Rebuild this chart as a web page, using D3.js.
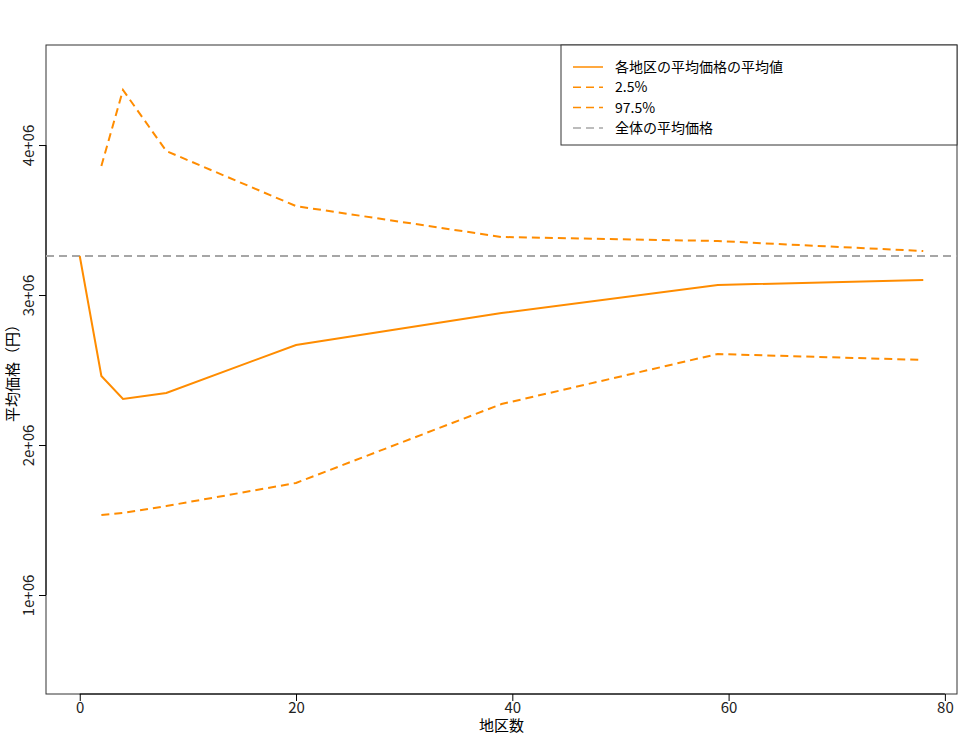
<!DOCTYPE html>
<html><head><meta charset="utf-8">
<script src="https://cdn.jsdelivr.net/npm/d3@7"></script>
<style>body{margin:0;background:#fff}text{font-family:"Noto Sans CJK JP","Noto Sans",sans-serif;}</style>
</head><body><svg id="c" width="980" height="742"></svg>
<script>
const districts = [0, 2, 4, 8, 20, 39, 59, 78];
const meanPrice = [3.26e6, 2.46e6, 2.307e6, 2.347e6, 2.667e6, 2.88e6, 3.067e6, 3.1e6];
const lowerX = [2, 4, 8, 20, 39, 59, 78];
const lower = [1.533e6, 1.547e6, 1.593e6, 1.747e6, 2.273e6, 2.607e6, 2.567e6];
const upper = [3.86e6, 4.367e6, 3.96e6, 3.593e6, 3.387e6, 3.36e6, 3.293e6];
const overallMean = 3.26e6;
const xTicks = [0, 20, 40, 60, 80];
const yTicks = [1e6, 2e6, 3e6, 4e6];
const yTickLabels = ["1e+06", "2e+06", "3e+06", "4e+06"];
const legendLabels = ["各地区の平均価格の平均値", "2.5%", "97.5%", "全体の平均価格"];

const orange = "#ff8c00", grey = "#a6a6a6";
const svg = d3.select("#c");
const L = 46, R = 957, T = 45, B = 694;
const x = d3.scaleLinear().domain([-3.12, 81.12]).range([L, R]);
const y = d3.scaleLinear().domain([0.34e6, 4.667e6]).range([B, T]);

svg.append("rect").attr("x", L).attr("y", T).attr("width", R - L).attr("height", B - T)
  .attr("fill", "none").attr("stroke", "#333");

const xa = svg.append("g").attr("transform", `translate(0,${B})`)
  .call(d3.axisBottom(x).tickValues(xTicks).tickSize(7).tickSizeOuter(0));
xa.attr("font-size", null).attr("font-family", null);
xa.select(".domain").attr("d", `M${x(0)},0H${x(80)}`);
xa.selectAll("text").style("font-size", "15px").attr("y", 8).attr("dy", "0.75em").attr("fill", "#222");

const ya = svg.append("g").attr("transform", `translate(${L},0)`)
  .call(d3.axisLeft(y).tickValues(yTicks).tickSize(7).tickSizeOuter(0).tickFormat((d, i) => yTickLabels[i]));
ya.attr("font-size", null).attr("font-family", null);
ya.select(".domain").attr("d", `M0,${y(1e6)}V${y(4e6)}`);
ya.selectAll(".tick text").style("font-size", "15px").attr("fill", "#222")
  .attr("text-anchor", "middle").attr("x", 0).attr("dy", 0)
  .attr("transform", "translate(-12,0) rotate(-90)");

svg.append("text").attr("x", (L + R) / 2).attr("y", 731).attr("text-anchor", "middle")
  .style("font-size", "15px").text("地区数");
svg.append("text").attr("transform", `translate(18,${(T + B) / 2}) rotate(-90)`)
  .attr("text-anchor", "middle").style("font-size", "15px").text("平均価格（円）");

const line = d3.line().x(d => x(d[0])).y(d => y(d[1]));
svg.append("line").attr("x1", L).attr("x2", R).attr("y1", y(overallMean)).attr("y2", y(overallMean))
  .attr("stroke", grey).attr("stroke-width", 2).attr("stroke-dasharray", "8,5");
svg.append("path").attr("d", line(districts.map((d, i) => [d, meanPrice[i]])))
  .attr("fill", "none").attr("stroke", orange).attr("stroke-width", 2);
svg.append("path").attr("d", line(lowerX.map((d, i) => [d, lower[i]])))
  .attr("fill", "none").attr("stroke", orange).attr("stroke-width", 2).attr("stroke-dasharray", "8,5");
svg.append("path").attr("d", line(lowerX.map((d, i) => [d, upper[i]])))
  .attr("fill", "none").attr("stroke", orange).attr("stroke-width", 2).attr("stroke-dasharray", "8,5");

const lg = svg.append("g");
lg.append("rect").attr("x", 561).attr("y", T).attr("width", R - 561).attr("height", 100)
  .attr("fill", "#fff").attr("stroke", "#333");
const lcol = [orange, orange, orange, grey], ldash = [null, "8,5", "8,5", "8,5"];
legendLabels.forEach((t, i) => {
  const yy = 67 + i * 20.3;
  lg.append("line").attr("x1", 573).attr("x2", 603).attr("y1", yy).attr("y2", yy)
    .attr("stroke", lcol[i]).attr("stroke-width", 1.5).attr("stroke-dasharray", ldash[i]);
  lg.append("text").attr("x", 615).attr("y", yy + 5).style("font-size", "14px").text(t);
});
</script></body></html>
